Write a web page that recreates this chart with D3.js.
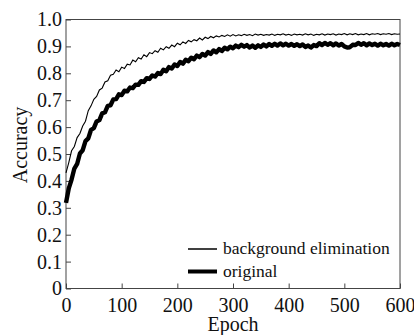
<!DOCTYPE html>
<html>
<head>
<meta charset="utf-8">
<script src="https://cdn.jsdelivr.net/npm/d3@7"></script>
<style>
  html, body { margin: 0; padding: 0; background: #fff; }
</style>
</head>
<body>
<svg id="chart" width="414" height="335"></svg>
<script>
// epochs sampled every 5 from 0 to 600
const epochs = d3.range(0, 601, 5);

// background elimination (thin line)
const bgElim = [
  0.430, 0.468, 0.512, 0.528, 0.561, 0.576, 0.604, 0.622, 0.661, 0.679,
  0.703, 0.714, 0.738, 0.745, 0.768, 0.772, 0.793, 0.796, 0.812, 0.806,
  0.823, 0.818, 0.834, 0.831, 0.849, 0.843, 0.858, 0.853, 0.869, 0.862,
  0.877, 0.873, 0.884, 0.878, 0.893, 0.887, 0.899, 0.893, 0.905, 0.899,
  0.912, 0.906, 0.917, 0.911, 0.922, 0.917, 0.925, 0.921, 0.931, 0.924,
  0.934, 0.929, 0.937, 0.932, 0.939, 0.935, 0.941, 0.937, 0.943, 0.938,
  0.944, 0.939, 0.943, 0.940, 0.945, 0.941, 0.944, 0.940, 0.946, 0.942,
  0.945, 0.941, 0.944, 0.942, 0.946, 0.941, 0.945, 0.943, 0.947, 0.942,
  0.945, 0.941, 0.946, 0.943, 0.945, 0.942, 0.947, 0.943, 0.946, 0.941,
  0.945, 0.943, 0.947, 0.942, 0.946, 0.944, 0.947, 0.942, 0.946, 0.944,
  0.948, 0.943, 0.947, 0.944, 0.948, 0.943, 0.946, 0.944, 0.948, 0.943,
  0.947, 0.945, 0.948, 0.944, 0.947, 0.945, 0.948, 0.944, 0.947, 0.945,
  0.946
];

// original (thick line)
const original = [
  0.318, 0.372, 0.405, 0.446, 0.463, 0.502, 0.514, 0.548, 0.558, 0.590,
  0.596, 0.621, 0.626, 0.651, 0.655, 0.679, 0.681, 0.703, 0.704, 0.722,
  0.719, 0.735, 0.733, 0.747, 0.745, 0.758, 0.757, 0.771, 0.768, 0.782,
  0.779, 0.792, 0.788, 0.801, 0.797, 0.813, 0.808, 0.823, 0.818, 0.833,
  0.827, 0.842, 0.836, 0.850, 0.845, 0.858, 0.852, 0.866, 0.860, 0.872,
  0.866, 0.879, 0.872, 0.885, 0.878, 0.890, 0.883, 0.895, 0.889, 0.899,
  0.893, 0.903, 0.897, 0.906, 0.899, 0.905, 0.896, 0.903, 0.895, 0.904,
  0.898, 0.907, 0.900, 0.909, 0.902, 0.910, 0.903, 0.911, 0.904, 0.910,
  0.903, 0.909, 0.902, 0.908, 0.901, 0.907, 0.898, 0.903, 0.896, 0.905,
  0.901, 0.912, 0.905, 0.913, 0.906, 0.912, 0.904, 0.911, 0.903, 0.909,
  0.900, 0.896, 0.897, 0.906, 0.905, 0.913, 0.906, 0.912, 0.904, 0.911,
  0.905, 0.910, 0.903, 0.910, 0.904, 0.909, 0.903, 0.910, 0.904, 0.909,
  0.905
];

const xTicks = [0, 100, 200, 300, 400, 500, 600];
const yTicks = [0, 0.1, 0.2, 0.3, 0.4, 0.5, 0.6, 0.7, 0.8, 0.9, 1.0];
const seriesNames = ['background elimination', 'original'];

const serif = '"Liberation Serif", "DejaVu Serif", "Times New Roman", serif';

const svg = d3.select('#chart');
const margin = { top: 19.5, right: 14, bottom: 46.5, left: 66 };
const width = 414 - margin.left - margin.right;
const height = 335 - margin.top - margin.bottom;

const g = svg.append('g')
  .attr('transform', `translate(${margin.left},${margin.top})`);

const x = d3.scaleLinear().domain([0, 600]).range([0, width]);
const y = d3.scaleLinear().domain([0, 1]).range([height, 0]);

// axes with inward ticks
g.append('g')
  .attr('transform', `translate(0,${height})`)
  .call(d3.axisBottom(x).tickValues(xTicks).tickSizeInner(-5).tickSizeOuter(0).tickPadding(9).tickFormat(d3.format('d')))
  .attr('font-family', serif)
  .attr('font-size', 20)
  .call(a => a.select('.domain').remove())
  .call(a => a.selectAll('text').attr('fill', '#111'))
  .call(a => a.selectAll('line').attr('stroke', '#444'));

g.append('g')
  .call(d3.axisLeft(y).tickValues(yTicks).tickSizeInner(-5).tickSizeOuter(0).tickPadding(4)
    .tickFormat(d => d === 0 ? '0' : d.toFixed(1)))
  .attr('font-family', serif)
  .attr('font-size', 20)
  .call(a => a.select('.domain').remove())
  .call(a => a.selectAll('text').attr('fill', '#111'))
  .call(a => a.selectAll('line').attr('stroke', '#444'));

// frame
g.append('rect')
  .attr('x', 0).attr('y', 0)
  .attr('width', width).attr('height', height)
  .attr('fill', 'none')
  .attr('stroke', '#444')
  .attr('stroke-width', 1);

const line = d3.line()
  .x((d, i) => x(epochs[i]))
  .y(d => y(d));

g.append('path')
  .datum(original)
  .attr('fill', 'none')
  .attr('stroke', '#000')
  .attr('stroke-width', 4.4)
  .attr('stroke-linejoin', 'round')
  .attr('d', line);

g.append('path')
  .datum(bgElim)
  .attr('fill', 'none')
  .attr('stroke', '#000')
  .attr('stroke-width', 1.1)
  .attr('d', line);

// legend
const legend = g.append('g').attr('transform', 'translate(122,229.5)');
seriesNames.forEach((name, i) => {
  const row = legend.append('g').attr('transform', `translate(0,${i * 22.5})`);
  row.append('line')
    .attr('x1', 0).attr('x2', 29)
    .attr('y1', 0).attr('y2', 0)
    .attr('stroke', '#000')
    .attr('stroke-width', i === 0 ? 1.5 : 4);
  row.append('text')
    .attr('x', 35)
    .attr('y', 5)
    .attr('font-family', serif)
    .attr('font-size', 17.5)
    .attr('fill', '#111')
    .text(name);
});

// axis titles
svg.append('text')
  .attr('x', margin.left + width / 2)
  .attr('y', 331)
  .attr('text-anchor', 'middle')
  .attr('font-family', serif)
  .attr('font-size', 20)
  .attr('fill', '#111')
  .text('Epoch');

svg.append('text')
  .attr('transform', 'translate(27,145) rotate(-90)')
  .attr('text-anchor', 'middle')
  .attr('font-family', serif)
  .attr('font-size', 20)
  .attr('fill', '#111')
  .text('Accuracy');
</script>
</body>
</html>
